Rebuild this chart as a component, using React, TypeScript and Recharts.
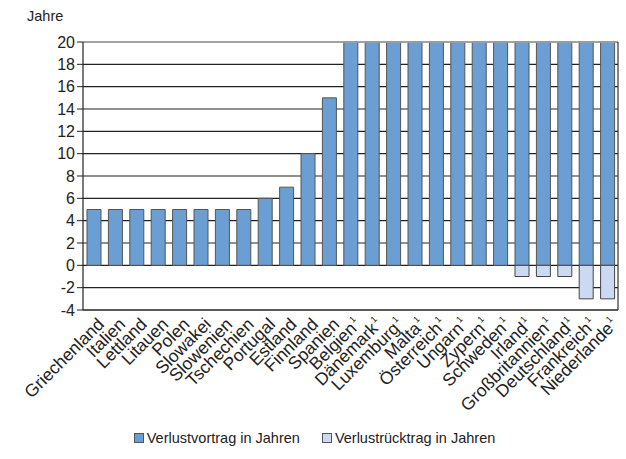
import React from "react";
import {
  BarChart,
  Bar,
  XAxis,
  YAxis,
  CartesianGrid,
  Legend,
  ReferenceLine,
} from "recharts";

const countries = [
  "Griechenland", "Italien", "Lettland", "Litauen", "Polen", "Slowakei",
  "Slowenien", "Tschechien", "Portugal", "Estland", "Finnland", "Spanien",
  "Belgien", "Dänemark", "Luxemburg", "Malta", "Österreich", "Ungarn",
  "Zypern", "Schweden", "Irland", "Großbritannien", "Deutschland",
  "Frankreich", "Niederlande",
];
const footnoted = [
  false, false, false, false, false, false, false, false, false, false, false, false,
  true, true, true, true, true, true, true, true, true, true, true, true, true,
];
const vortrag = [5, 5, 5, 5, 5, 5, 5, 5, 6, 7, 10, 15, 20, 20, 20, 20, 20, 20, 20, 20, 20, 20, 20, 20, 20];
const ruecktrag = [0, 0, 0, 0, 0, 0, 0, 0, 0, 0, 0, 0, 0, 0, 0, 0, 0, 0, 0, 0, -1, -1, -1, -3, -3];
const yTicks = [-4, -2, 0, 2, 4, 6, 8, 10, 12, 14, 16, 18, 20];

const data = countries.map((name, i) => ({
  name,
  fn: footnoted[i],
  vortrag: vortrag[i],
  ruecktrag: ruecktrag[i] === 0 ? null : ruecktrag[i],
}));

const FONT = "'Liberation Sans', Arial, sans-serif";
const DARK = "#6b9fd3";
const LIGHT = "#cbdaf2";

const CountryTick = (props: any) => {
  const { x, y, payload } = props;
  const d = data[payload.index];
  return (
    <g transform={`translate(${x + 5},${y + 1})`}>
      <text
        transform="rotate(-45)"
        textAnchor="end"
        fontSize={17.5}
        fontFamily={FONT}
        fill="#222"
        dy={9}
      >
        {payload.value}
        {d && d.fn ? <tspan fontSize={9} dx={1} dy={-8}>1</tspan> : null}
      </text>
    </g>
  );
};

const LegendBox = () => (
  <div
    style={{
      height: 30,
      display: "flex",
      justifyContent: "center",
      gap: 22,
      fontFamily: FONT,
      fontSize: 14.5,
      color: "#222",
      paddingLeft: 10,
    }}
  >
    {[
      ["Verlustvortrag in Jahren", DARK],
      ["Verlustrücktrag in Jahren", LIGHT],
    ].map(([label, color]) => (
      <div key={label} style={{ display: "flex", alignItems: "center", gap: 3, height: 18 }}>
        <span
          style={{
            width: 8,
            height: 8,
            background: color,
            border: "1px solid #555",
            display: "inline-block",
          }}
        />
        <span>{label}</span>
      </div>
    ))}
  </div>
);

export default function App() {
  return (
    <div style={{ position: "absolute", left: 0, top: 0, width: 626, height: 459, background: "#fff" }}>
      <div
        style={{
          position: "absolute",
          left: 27,
          top: 8,
          fontFamily: FONT,
          fontSize: 14.5,
          color: "#222",
        }}
      >
        Jahre
      </div>
      <BarChart
        width={626}
        height={459}
        data={data}
        stackOffset="sign"
        barSize={14}
        margin={{ top: 42, right: 7, left: 0, bottom: 0 }}
      >
        <CartesianGrid vertical={false} stroke="#222" strokeWidth={1.2} />
        <XAxis
          dataKey="name"
          interval={0}
          height={119}
          tick={<CountryTick />}
          tickLine={false}
          axisLine={{ stroke: "#222", strokeWidth: 1.2 }}
        />
        <YAxis
          domain={[-4, 20]}
          ticks={yTicks}
          interval={0}
          width={83}
          tickSize={6}
          tickMargin={2}
          tick={{ fontSize: 16, fontFamily: FONT, fill: "#222" }}
          tickLine={{ stroke: "#222" }}
          axisLine={{ stroke: "#222", strokeWidth: 1.2 }}
        />
        <YAxis
          yAxisId="right"
          orientation="right"
          domain={[-4, 20]}
          width={1}
          tick={false}
          tickLine={false}
          axisLine={{ stroke: "#333", strokeWidth: 1.2 }}
        />
        <ReferenceLine y={20} stroke="#aaa" strokeWidth={1.5} />
        <Bar
          dataKey="vortrag"
          stackId="a"
          fill={DARK}
          stroke="#555"
          strokeWidth={1}
          isAnimationActive={false}
        />
        <Bar
          dataKey="ruecktrag"
          stackId="a"
          fill={LIGHT}
          stroke="#444"
          strokeWidth={1}
          isAnimationActive={false}
        />
        <Legend verticalAlign="bottom" content={<LegendBox />} />
      </BarChart>
    </div>
  );
}
